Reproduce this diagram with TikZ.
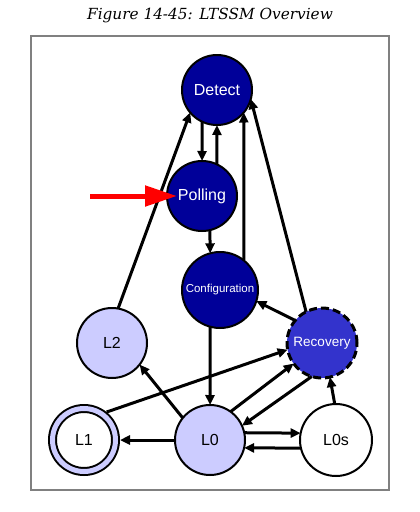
\documentclass[tikz,border=0pt]{standalone}
\usepackage{fontspec}
\setsansfont{Liberation Sans}
\newfontfamily\titlefont{DejaVu Serif}
\usetikzlibrary{arrows.meta}
\definecolor{ltdark}{HTML}{000099}
\definecolor{ltrec}{HTML}{3333CC}
\definecolor{ltlight}{HTML}{CCCCFF}
\definecolor{ltframe}{HTML}{808080}
\begin{document}
\begin{tikzpicture}[x=1pt, y=-1pt,
        ltnode/.style={circle, draw=black, line width=2pt, inner sep=0pt, outer sep=0pt, minimum size=70pt, font=\sffamily\fontsize{16}{18}\selectfont},
        darknode/.style={ltnode, fill=ltdark, text=white},
        lightnode/.style={ltnode, fill=ltlight},
        link/.style={black, line width=3pt, -{Triangle[length=10pt, width=9pt]}}]

            \useasboundingbox (0,0) rectangle (420,512);
            \node (title) at (210,16) {\titlefont\fontsize{15.3}{18}\selectfont\itshape Figure 14-45: LTSSM Overview};
            \draw[ltframe, line width=1.5pt] (31,36) rectangle (389,490);

            \node[darknode] (detect) at (217,90) {Detect};
            \node[darknode] (polling) at (202,196) {Polling};
            \node[darknode, minimum size=76pt, font=\sffamily\fontsize{11.5}{13}\selectfont] (config) at (220,290) {Configuration};
            \node[ltnode, fill=ltrec, text=white, line width=3pt, dash pattern=on 8pt off 4pt, font=\sffamily\fontsize{13.5}{15}\selectfont] (recovery) at (322,343) {Recovery};
            \node[lightnode] (l2) at (112,343) {L2};
            \node[ltnode, fill=white, double=ltlight, double distance=5pt, minimum size=63pt, outer sep=4.5pt] (l1) at (84,440) {L1};
            \node[lightnode] (l0) at (210,440) {L0};
            \node[ltnode, fill=white, minimum size=72pt] (l0s) at (336,440) {L0s};
            \coordinate (redtail) at (90,196);

            \draw[link] (detect.245) -- (polling.north);
            \draw[link] (polling.65) -- (detect.south);
            \draw[link] (polling.283) -- (config.105);
            \draw[link] (config.51) -- (detect.320);
            \draw[link] (recovery.117) -- (detect.345);
            \draw[link] (l2.80) -- (detect.220);
            \draw[link] (config.255) -- (l0.north);
            \draw[link] (recovery.140) -- (config.343);
            \draw[link] (l1.51) -- (recovery.191);
            \draw[link] (l0.54) -- (recovery.216);
            \draw[link] (recovery.253) -- (l0.24);
            \draw[link] (l0s.92) -- (recovery.283);
            \draw[link] (l0.141) -- (l2.322);
            \draw[link] (l0.west) -- (l1.east);
            \draw[link] (l0.12) -- (l0s.169);
            \draw[link] (l0s.193) -- (l0.347);
            \draw[red, line width=5pt, -{Triangle[length=32pt, width=20pt]}] (redtail) -- ([xshift=10pt]polling.west);

        \end{tikzpicture}
\end{document}
